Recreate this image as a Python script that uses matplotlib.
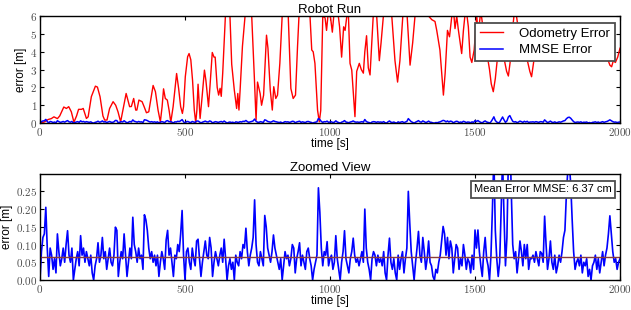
import numpy as np
import matplotlib
matplotlib.use('Agg')
import matplotlib.pyplot as plt
from matplotlib.ticker import FuncFormatter

plt.rcParams['font.family'] = ['Liberation Sans', 'DejaVu Sans']
plt.rcParams['mathtext.fontset'] = 'cm'

# odometry error (t [s], error [m]), peaks above 6 are clipped
odo_t = [0, 8, 16, 28, 39, 48, 60, 68, 82, 91, 99, 108, 117, 126, 133, 143, 149, 160, 166, 177,
         191, 198, 207, 217, 223, 231, 240, 252, 261, 269, 278, 286, 297, 303, 309, 315, 323, 330, 334, 341,
         352, 359, 367, 375, 390, 398, 407, 415, 421, 426, 432, 439, 445, 451, 459, 471, 478, 485, 491, 495,
         501, 509, 514, 520, 526, 532, 537, 541, 545, 549, 552, 558, 567, 572, 581, 586, 594, 600, 604, 611,
         616, 621, 625, 630, 635, 645, 655, 661, 670, 678, 682, 686, 690, 698, 707, 718, 730, 739, 745, 750,
         759, 764, 771, 781, 786, 794, 801, 806, 813, 819, 827, 835, 845, 856, 865, 873, 881, 888, 893, 905,
         920, 931, 937, 942, 948, 957, 963, 968, 975, 983, 988, 994, 1002, 1008, 1014, 1025, 1033, 1040, 1047, 1052,
         1058, 1063, 1069, 1075, 1086, 1092, 1101, 1108, 1115, 1120, 1126, 1132, 1138, 1143, 1149, 1153, 1161, 1170, 1176, 1184,
         1195, 1206, 1213, 1224, 1233, 1241, 1251, 1260, 1266, 1276, 1285, 1293, 1300, 1310, 1320, 1330, 1340, 1351, 1362, 1368,
         1379, 1391, 1397, 1405, 1412, 1420, 1426, 1431, 1437, 1442, 1454, 1460, 1465, 1471, 1477, 1483, 1489, 1497, 1506, 1511,
         1520, 1530, 1540, 1550, 1556, 1563, 1570, 1577, 1585, 1593, 1603, 1609, 1615, 1621, 1628, 1636, 1643, 1650, 1660, 1672,
         1682, 1689, 1695, 1702, 1710, 1720, 1735, 1748, 1760, 1775, 1790, 1805, 1820, 1835, 1850, 1865, 1880, 1895, 1910, 1925,
         1940, 1955, 1965, 1971, 1977, 1984, 1992, 2000]
odo_err = [0.0, 0.03, 0.07, 0.2, 0.25, 0.35, 0.25, 0.4, 0.9, 0.82, 0.92, 0.63, 0.05, 0.4, 0.77, 0.77, 0.82, 0.26, 0.35, 1.48,
           2.07, 2.02, 1.48, 0.4, 0.17, 0.17, 0.82, 1.2, 1.0, 0.63, 0.07, 0.73, 1.66, 1.29, 0.92, 0.93, 1.38, 0.73, 0.73, 1.29,
           1.2, 0.92, 0.58, 0.63, 2.11, 1.76, 0.73, 0.07, 0.92, 1.92, 1.38, 1.29, 0.73, 0.05, 0.92, 2.78, 1.94, 0.92, 0.54, 0.92,
           2.6, 3.72, 3.9, 3.55, 2.4, 0.73, 0.02, 0.73, 2.18, 1.1, 0.26, 1.3, 2.97, 2.4, 0.92, 2.04, 3.96, 3.7, 3.7, 2.0,
           1.57, 1.95, 1.5, 2.8, 4.5, 8.0, 6.0, 3.3, 1.85, 0.82, 1.66, 0.73, 1.85, 4.3, 6.0, 8.5, 6.0, 2.6, 0.17, 2.3,
           1.66, 1.0, 1.57, 4.93, 4.2, 1.85, 0.73, 2.04, 1.38, 1.57, 3.35, 6.0, 8.5, 6.0, 1.94, 1.38, 1.57, 4.3, 6.0, 9.0,
           8.0, 6.0, 4.1, 4.0, 3.35, 0.73, 0.07, 0.7, 6.0, 5.9, 5.2, 6.2, 5.9, 5.1, 6.2, 6.5, 5.4, 3.7, 5.4, 5.2,
           6.0, 6.3, 3.35, 2.97, 0.36, 2.9, 3.35, 3.0, 2.8, 4.0, 4.9, 3.1, 2.7, 4.2, 6.0, 7.5, 6.0, 3.5, 4.5, 6.0,
           8.5, 8.0, 6.0, 3.5, 2.3, 3.5, 6.0, 7.5, 6.0, 3.25, 4.5, 6.0, 7.0, 7.5, 6.5, 6.2, 6.0, 5.8, 5.7, 5.2,
           4.1, 1.57, 2.8, 5.2, 4.84, 6.0, 6.3, 5.3, 6.0, 5.3, 3.9, 5.2, 6.0, 6.2, 5.4, 3.7, 3.4, 4.1, 6.0, 5.0,
           6.3, 5.0, 4.0, 3.0, 2.2, 1.76, 2.5, 3.6, 5.0, 4.2, 3.4, 2.9, 2.64, 3.4, 5.0, 6.3, 6.0, 5.2, 4.6, 4.0,
           3.4, 2.9, 2.6, 3.4, 4.6, 5.2, 4.4, 5.0, 4.2, 4.8, 4.0, 4.6, 5.0, 4.2, 4.8, 4.4, 5.0, 4.5, 4.0, 4.6,
           4.2, 3.7, 3.25, 3.16, 3.5, 3.4, 3.7, 4.2]

# MMSE error [m], one value every 5 s from 0 to 2000 s
mmse_t = list(range(0, 2001, 5))
mmse_err = [
    0.00, 0.08, 0.12, 0.13, 0.205, 0.09, 0.01, 0.09, 0.07, 0.03, 0.06, 0.02, 0.13, 0.08, 0.04, 0.06, 0.09, 0.05, 0.10, 0.139,
    0.07, 0.05, 0.09, 0.00, 0.03, 0.06, 0.08, 0.04, 0.125, 0.07, 0.09, 0.05, 0.08, 0.06, 0.04, 0.07, 0.02, 0.00, 0.04, 0.06,
    0.105, 0.05, 0.07, 0.12, 0.06, 0.08, 0.03, 0.06, 0.09, 0.05, 0.04, 0.07, 0.149, 0.14, 0.01, 0.05, 0.08, 0.06, 0.13, 0.07,
    0.01, 0.05, 0.09, 0.06, 0.177, 0.10, 0.08, 0.05, 0.09, 0.06, 0.07, 0.03, 0.184, 0.17, 0.14, 0.09, 0.06, 0.08, 0.05, 0.07,
    0.04, 0.07, 0.01, 0.05, 0.08, 0.06, 0.03, 0.113, 0.14, 0.07, 0.09, 0.05, 0.01, 0.07, 0.06, 0.10, 0.08, 0.13, 0.196, 0.07,
    0.00, 0.08, 0.09, 0.05, 0.03, 0.09, 0.06, 0.04, 0.11, 0.115, 0.06, 0.01, 0.05, 0.08, 0.11, 0.07, 0.06, 0.12, 0.09, 0.01,
    0.05, 0.08, 0.06, 0.04, 0.07, 0.09, 0.05, 0.115, 0.06, 0.00, 0.04, 0.06, 0.03, 0.05, 0.00, 0.07, 0.05, 0.04, 0.08, 0.06,
    0.10, 0.09, 0.146, 0.08, 0.04, 0.07, 0.09, 0.12, 0.226, 0.10, 0.05, 0.04, 0.08, 0.06, 0.04, 0.182, 0.15, 0.09, 0.07, 0.05,
    0.08, 0.127, 0.09, 0.07, 0.05, 0.03, 0.06, 0.00, 0.04, 0.08, 0.06, 0.07, 0.04, 0.06, 0.10, 0.09, 0.02, 0.06, 0.08, 0.105,
    0.04, 0.07, 0.05, 0.03, 0.08, 0.09, 0.06, 0.04, 0.00, 0.03, 0.05, 0.07, 0.26, 0.19, 0.09, 0.04, 0.08, 0.07, 0.108, 0.04,
    0.06, 0.07, 0.03, 0.05, 0.125, 0.06, 0.03, 0.00, 0.05, 0.08, 0.139, 0.06, 0.04, 0.02, 0.06, 0.08, 0.118, 0.07, 0.05, 0.06,
    0.04, 0.06, 0.08, 0.05, 0.20, 0.09, 0.05, 0.03, 0.00, 0.06, 0.08, 0.07, 0.04, 0.07, 0.05, 0.06, 0.04, 0.08, 0.02, 0.00,
    0.07, 0.118, 0.05, 0.03, 0.06, 0.02, 0.00, 0.07, 0.03, 0.06, 0.08, 0.02, 0.06, 0.09, 0.25, 0.16, 0.08, 0.04, 0.00, 0.05,
    0.09, 0.137, 0.07, 0.05, 0.12, 0.08, 0.03, 0.06, 0.11, 0.05, 0.04, 0.01, 0.00, 0.03, 0.02, 0.05, 0.07, 0.11, 0.151, 0.13,
    0.07, 0.12, 0.06, 0.11, 0.09, 0.02, 0.06, 0.10, 0.09, 0.03, 0.06, 0.04, 0.10, 0.07, 0.03, 0.06, 0.05, 0.02, 0.07, 0.03,
    0.141, 0.09, 0.141, 0.08, 0.04, 0.01, 0.08, 0.12, 0.06, 0.04, 0.00, 0.07, 0.20, 0.35, 0.14, 0.06, 0.01, 0.05, 0.20, 0.34,
    0.18, 0.04, 0.12, 0.34, 0.42, 0.25, 0.10, 0.06, 0.08, 0.02, 0.06, 0.11, 0.08, 0.04, 0.10, 0.06, 0.10, 0.03, 0.06, 0.06,
    0.07, 0.05, 0.08, 0.06, 0.04, 0.08, 0.075, 0.05, 0.18, 0.10, 0.03, 0.06, 0.11, 0.05, 0.03, 0.07, 0.02, 0.04, 0.07, 0.05,
    0.08, 0.12, 0.14, 0.24, 0.31, 0.33, 0.27, 0.17, 0.08, 0.03, 0.05, 0.06, 0.04, 0.07, 0.02, 0.05, 0.04, 0.06, 0.01, 0.03,
    0.00, 0.04, 0.05, 0.07, 0.03, 0.06, 0.02, 0.05, 0.08, 0.04, 0.07, 0.09, 0.13, 0.181, 0.13, 0.08, 0.05, 0.06, 0.03, 0.05,
    0.06]

mmse_mean_cm = 6.37
x_ticks = [0, 500, 1000, 1500, 2000]
top_yticks = [0, 1, 2, 3, 4, 5, 6]
bot_yticks = [0.00, 0.05, 0.10, 0.15, 0.20, 0.25]

fig = plt.figure(figsize=(6.31, 3.10), dpi=100)
ax1 = fig.add_axes([0.0634, 0.603, 0.9192, 0.345])
ax2 = fig.add_axes([0.0634, 0.0968, 0.9192, 0.342])

def style(ax, yfmt):
    ax.tick_params(direction='in', top=True, right=True, length=3, width=0.8,
                   labelsize=8, labelcolor='0.3', pad=2)
    ax.xaxis.set_major_formatter(FuncFormatter(lambda v, p: '$%d$' % v))
    ax.yaxis.set_major_formatter(FuncFormatter(lambda v, p: '$' + (yfmt % v) + '$'))
    for s in ax.spines.values():
        s.set_linewidth(1.0)
    ax.set_xlim(0, 2000)
    ax.set_xticks(x_ticks)
    ax.set_xlabel('time [s]', fontsize=8.5, labelpad=0)
    ax.set_ylabel('error [m]', fontsize=8.5, labelpad=2)

# Robot Run
ax1.plot(odo_t, odo_err, color='red', lw=1.0, label='Odometry Error')
ax1.plot(mmse_t, mmse_err, color='blue', lw=1.1, label='MMSE Error')
ax1.set_ylim(0, 6)
ax1.set_yticks(top_yticks)
style(ax1, '%d')
ax1.set_title('Robot Run', fontsize=9.5, pad=2)
leg = ax1.legend(loc='upper right', bbox_to_anchor=(0.991, 0.935), borderaxespad=0,
                 fontsize=9.5, fancybox=False, framealpha=1, handlelength=1.8,
                 handletextpad=1.2, labelspacing=0.3, borderpad=0.35)
leg.get_frame().set_edgecolor('0.3')
leg.get_frame().set_linewidth(1.3)

# Zoomed View
ax2.plot(mmse_t, mmse_err, color='blue', lw=1.2)
ax2.axhline(mmse_mean_cm / 100, color='#8a3c3c', lw=1.0)
ax2.set_ylim(0, 0.299)
ax2.set_yticks(bot_yticks)
style(ax2, '%.2f')
ax2.set_title('Zoomed View', fontsize=9.5, pad=2)
ax2.text(0.986, 0.855, 'Mean Error MMSE: %.2f cm' % mmse_mean_cm, transform=ax2.transAxes,
         ha='right', va='center', fontsize=8,
         bbox=dict(boxstyle='square,pad=0.3', facecolor='white', edgecolor='0.3', linewidth=1.3))

fig.savefig('out.png', dpi=100)
